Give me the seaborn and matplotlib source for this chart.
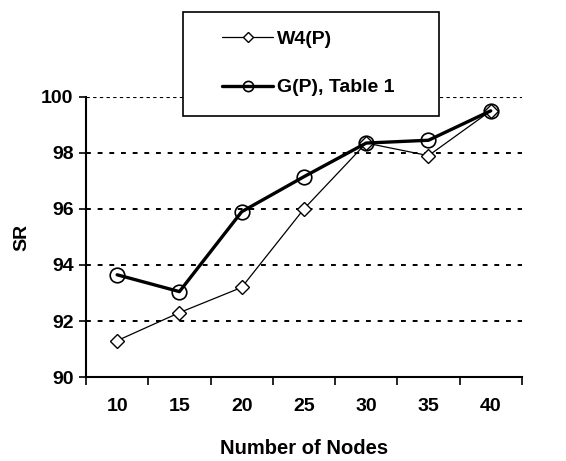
import pandas as pd
import numpy as np
import matplotlib
matplotlib.use("Agg")
import matplotlib.pyplot as plt
from matplotlib.patches import Rectangle
import seaborn as sns

sns.set_theme(style="white")
plt.rcParams['font.family'] = ['Liberation Sans', 'DejaVu Sans']
plt.rcParams['font.weight'] = 'bold'
plt.rcParams['text.color'] = 'black'
plt.rcParams['axes.labelcolor'] = 'black'
plt.rcParams['xtick.color'] = 'black'
plt.rcParams['ytick.color'] = 'black'

# Data
nodes = ["10", "15", "20", "25", "30", "35", "40"]
w4_p = [91.3, 92.3, 93.2, 96.0, 98.35, 97.9, 99.5]
g_p = [93.65, 93.05, 95.9, 97.15, 98.35, 98.45, 99.5]

df = pd.DataFrame({"Nodes": nodes, "W4(P)": w4_p, "G(P), Table 1": g_p})

fig = plt.figure(figsize=(5.66, 4.61), dpi=100)
ax = fig.add_axes([0.152, 0.182, 0.77, 0.608])

sns.lineplot(data=df, x="Nodes", y="W4(P)", ax=ax, color="black",
             linewidth=0.9, marker="D", markersize=7.5,
             markerfacecolor="white", markeredgecolor="black",
             markeredgewidth=1.0, label="W4(P)", zorder=3)
sns.lineplot(data=df, x="Nodes", y="G(P), Table 1", ax=ax, color="black",
             linewidth=2.4, marker="o", markersize=10.5,
             markerfacecolor="none", markeredgecolor="black",
             markeredgewidth=1.2, label="G(P), Table 1", zorder=4)

ax.set_ylim(90, 100)
ax.set_xlim(-0.5, 6.5)
ax.set_yticks([90, 92, 94, 96, 98, 100])
ax.set_xticks(range(len(nodes)))
ax.set_xticklabels(nodes)
ax.set_xticks(np.arange(-0.5, 7, 1.0), minor=True)
ax.tick_params(axis="x", which="major", length=0, pad=15, labelsize=14)
ax.tick_params(axis="x", which="minor", length=6, width=1.2, direction="out",
               color="black", bottom=True)
ax.tick_params(axis="y", which="major", length=5, width=1.2, direction="out",
               color="black", left=True, labelsize=14, pad=4)

for v in [92, 94, 96, 98]:
    ax.axhline(v, color="black", linestyle=(0, (2.5, 3.5)), linewidth=1.4, zorder=1)
ax.axhline(100, color="black", linestyle=(0, (3, 3)), linewidth=0.8, zorder=1)

for s in ["top", "right"]:
    ax.spines[s].set_visible(False)
for s in ["left", "bottom"]:
    ax.spines[s].set_color("black")
    ax.spines[s].set_linewidth(1.5)

ax.set_xlabel("Number of Nodes", fontsize=14.5, fontweight="bold", labelpad=17)
ax.set_ylabel("SR", fontsize=14, fontweight="bold", labelpad=8)

# legend box drawn over the top of the plot
handles, labels = ax.get_legend_handles_labels()
ax.get_legend().remove()
box = Rectangle((0.323, 0.748), 0.452, 0.2256, transform=fig.transFigure,
                facecolor="white", edgecolor="black", linewidth=1.2, zorder=5)
fig.add_artist(box)
leg = fig.legend(handles, labels, loc="center", bbox_to_anchor=(0.545, 0.863),
                 frameon=False, fontsize=14, handlelength=2.6,
                 handletextpad=0.2, labelspacing=1.6, markerscale=0.7)
leg.set_zorder(6)

fig.savefig("out.png", dpi=100, facecolor="white")
